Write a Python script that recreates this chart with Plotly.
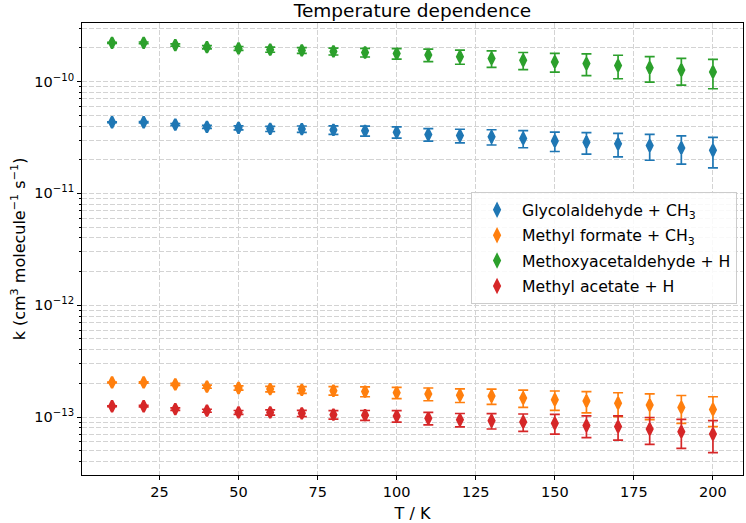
import plotly.graph_objects as go

# ---- data ----
T = [10, 20, 30, 40, 50, 60, 70, 80, 90, 100, 110, 120, 130, 140, 150, 160, 170, 180, 190, 200]

glyco_k = [4.33e-11, 4.33e-11, 4.13e-11, 3.94e-11, 3.86e-11, 3.78e-11, 3.76e-11, 3.70e-11, 3.63e-11, 3.53e-11,
           3.36e-11, 3.29e-11, 3.21e-11, 3.10e-11, 2.95e-11, 2.87e-11, 2.78e-11, 2.68e-11, 2.55e-11, 2.43e-11]
glyco_err = [0.03e-11, 0.06e-11, 0.09e-11, 0.12e-11, 0.16e-11, 0.20e-11, 0.25e-11, 0.32e-11, 0.37e-11, 0.41e-11,
             0.43e-11, 0.46e-11, 0.50e-11, 0.54e-11, 0.58e-11, 0.62e-11, 0.66e-11, 0.70e-11, 0.72e-11, 0.74e-11]

mform_k = [2.04e-13, 2.04e-13, 1.96e-13, 1.87e-13, 1.82e-13, 1.78e-13, 1.75e-13, 1.72e-13, 1.69e-13, 1.65e-13,
           1.61e-13, 1.57e-13, 1.54e-13, 1.48e-13, 1.43e-13, 1.39e-13, 1.33e-13, 1.28e-13, 1.22e-13, 1.17e-13]
mform_err = [0.02e-13, 0.03e-13, 0.04e-13, 0.06e-13, 0.08e-13, 0.10e-13, 0.12e-13, 0.15e-13, 0.17e-13, 0.19e-13,
             0.21e-13, 0.22e-13, 0.24e-13, 0.26e-13, 0.28e-13, 0.30e-13, 0.32e-13, 0.33e-13, 0.34e-13, 0.35e-13]

methoxy_k = [2.22e-10, 2.22e-10, 2.12e-10, 2.03e-10, 1.98e-10, 1.93e-10, 1.90e-10, 1.86e-10, 1.82e-10, 1.78e-10,
             1.73e-10, 1.67e-10, 1.61e-10, 1.55e-10, 1.50e-10, 1.45e-10, 1.39e-10, 1.33e-10, 1.27e-10, 1.22e-10]
methoxy_err = [0.02e-10, 0.04e-10, 0.05e-10, 0.07e-10, 0.08e-10, 0.10e-10, 0.11e-10, 0.13e-10, 0.16e-10, 0.19e-10,
               0.22e-10, 0.24e-10, 0.27e-10, 0.27e-10, 0.285e-10, 0.32e-10, 0.33e-10, 0.34e-10, 0.34e-10, 0.357e-10]

macet_k = [1.25e-13, 1.25e-13, 1.18e-13, 1.14e-13, 1.10e-13, 1.10e-13, 1.08e-13, 1.05e-13, 1.04e-13, 1.02e-13,
           0.975e-13, 0.946e-13, 0.927e-13, 0.905e-13, 0.88e-13, 0.84e-13, 0.823e-13, 0.781e-13, 0.74e-13, 0.705e-13]
macet_err = [0.01e-13, 0.02e-13, 0.03e-13, 0.035e-13, 0.045e-13, 0.06e-13, 0.07e-13, 0.09e-13, 0.105e-13, 0.12e-13,
             0.125e-13, 0.13e-13, 0.145e-13, 0.16e-13, 0.175e-13, 0.185e-13, 0.20e-13, 0.21e-13, 0.215e-13, 0.225e-13]

series_names = ["Glycolaldehyde + CH<sub>3</sub>", "Methyl formate + CH<sub>3</sub>",
                "Methoxyacetaldehyde + H", "Methyl acetate + H"]
series_k = [glyco_k, mform_k, methoxy_k, macet_k]
series_err = [glyco_err, mform_err, methoxy_err, macet_err]
colors = ["#1f77b4", "#ff7f0e", "#2ca02c", "#d62728"]

x_ticks = [25, 50, 75, 100, 125, 150, 175, 200]
y_major = [1e-13, 1e-12, 1e-11, 1e-10]
y_major_text = ["10<sup>−13</sup>", "10<sup>−12</sup>", "10<sup>−11</sup>", "10<sup>−10</sup>"]

FONT = "DejaVu Sans"

fig = go.Figure()
for i, (name, k, e, c) in enumerate(zip(series_names, series_k, series_err, colors)):
    fig.add_trace(go.Scatter(
        x=T, y=k, mode="markers", name=name,
        legendgroup=str(i),
        marker=dict(symbol="diamond-tall", size=8, color=c, line=dict(color=c, width=2.4)),
        error_y=dict(type="data", array=e, visible=True, color=c, thickness=1.7, width=5),
    ))

minor_vals = []
for exp in range(-15, -8):
    for d in range(2, 10):
        minor_vals.append(d * 10.0 ** exp)

grid_col = "#d3d3d3"
fig.update_layout(
    width=746, height=523,
    margin=dict(l=82, r=3, t=23, b=48),
    paper_bgcolor="white", plot_bgcolor="white",
    font=dict(family=FONT, size=14.5, color="black"),
    title=dict(text="Temperature dependence", x=412.5 / 746, xanchor="center",
               y=1 - 11 / 523, yanchor="middle", font=dict(size=18.5, family=FONT)),
    showlegend=True,
    legend=dict(x=0.991, xanchor="right", y=0.626, yanchor="top",
                bgcolor="rgba(255,255,255,0.85)", bordercolor="#cccccc", borderwidth=1,
                font=dict(size=15.7, family=FONT), traceorder="grouped", tracegroupgap=2,
                itemwidth=40),
    xaxis=dict(
        range=[0.5, 209.5], tickvals=x_ticks, ticks="outside", ticklen=4, tickcolor="black",
        showline=True, linecolor="black", linewidth=1, mirror=True,
        showgrid=True, gridcolor=grid_col, griddash="5px,2px", gridwidth=1,
        zeroline=False,
        title=dict(text="T / K", standoff=9, font=dict(size=16)),
        tickfont=dict(size=14.5),
    ),
    yaxis=dict(
        type="log", range=[-13.518, -9.476],
        tickvals=y_major, ticktext=y_major_text, ticks="outside", ticklen=4, tickcolor="black",
        showline=True, linecolor="black", linewidth=1, mirror=True,
        showgrid=True, gridcolor=grid_col, griddash="5px,2px", gridwidth=1,
        zeroline=False,
        minor=dict(tickvals=minor_vals, ticks="outside", ticklen=2.5, tickcolor="black",
                   showgrid=True, gridcolor=grid_col, griddash="5px,2px", gridwidth=1),
        title=dict(text="k (cm<sup>3</sup> molecule<sup>−1</sup> s<sup>−1</sup>)", standoff=4,
                   font=dict(size=16)),
        tickfont=dict(size=14.5),
    ),
)

fig.write_html("out.html")
